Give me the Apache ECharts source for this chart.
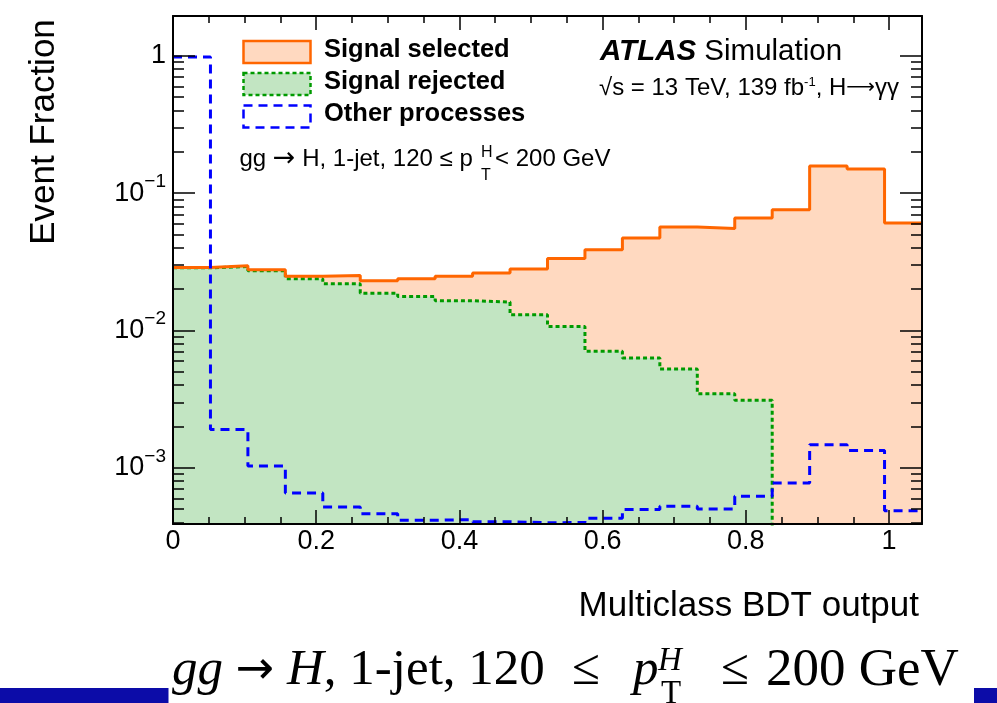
<!DOCTYPE html>
<html><head><meta charset="utf-8">
<script src="https://cdn.jsdelivr.net/npm/echarts@6/dist/echarts.min.js"></script>
<style>html,body{margin:0;padding:0;background:#fff}#c{width:997px;height:703px}</style>
</head><body><div id="c"></div><script>
// ---- data ----
const binEdges = [0,0.0523,0.1046,0.1569,0.2092,0.2615,0.3138,0.3661,0.4184,0.4707,0.523,0.5753,0.6276,0.6799,0.7322,0.7845,0.8368,0.8891,0.9414,0.9937,1.046];
const signalSelected = [0.0288,0.0296,0.0277,0.0248,0.0251,0.0230,0.0238,0.0248,0.0262,0.0280,0.0334,0.0387,0.0471,0.0567,0.0554,0.0659,0.0757,0.158,0.150,0.0606];
const signalRejected = [0.0286,0.0292,0.0272,0.0238,0.0219,0.0187,0.0177,0.0165,0.0161,0.0130,0.0107,0.00705,0.00631,0.00525,0.00347,0.00310,null,null,null,null];
const otherProcesses = [0.98,0.00190,0.00103,0.000656,0.000519,0.000464,0.000415,0.000420,0.000405,0.000398,0.000400,0.000429,0.000497,0.000525,0.000502,0.000621,0.000776,0.00147,0.00134,0.000486];
const xMajorTicks = [0,0.2,0.4,0.6,0.8,1];
const xMinorTicks = [0.05,0.1,0.15,0.25,0.3,0.35,0.45,0.5,0.55,0.65,0.7,0.75,0.85,0.9,0.95];
const yMajorTicks = [0.001,0.01,0.1,1];
const yMinorTicks = [0.0004,0.0005,0.0006,0.0007,0.0008,0.0009,0.002,0.003,0.004,0.005,0.006,0.007,0.008,0.009,0.02,0.03,0.04,0.05,0.06,0.07,0.08,0.09,0.2,0.3,0.4,0.5,0.6,0.7,0.8,0.9];
const legendLabels = ['Signal selected','Signal rejected','Other processes'];

const FONT = '"Liberation Sans", Arial, Helvetica, sans-serif';
const SERIF = '"Liberation Serif", "Times New Roman", serif';
const ARROWF = '"DejaVu Sans", sans-serif';
const X_MIN = 0, X_MAX = 1.046, Y_MIN = 3.9e-4, Y_MAX = 1.95;
const C_OR = '#ff6600', C_ORF = '#ffd9c0', C_GR = '#009a00', C_GRF = '#c2e5c2', C_BL = '#0000ff';

function stepData(vals){
  const d=[]; let last=null;
  for(let i=0;i<vals.length;i++){
    if(vals[i]==null){ if(last!=null){ d.push([binEdges[i],1e-6]); last=null; } continue; }
    d.push([binEdges[i],vals[i]]); last=vals[i];
  }
  if(last!=null) d.push([binEdges[vals.length],last]);
  return d;
}
const tickLine = {color:'#000', width:1.5};
function xAx(pos, ticks, len, labels, line){
  return {type:'value', min:X_MIN, max:X_MAX, position:pos, z:10,
    axisLine:{show:line, onZero:false, lineStyle:{color:'#000', width:2}},
    axisTick:{show:true, inside:true, length:len, customValues:ticks, lineStyle:tickLine},
    axisLabel:{show:labels, customValues:ticks, margin:4, color:'#000', fontSize:27, fontFamily:FONT,
      formatter:function(v){ return (v===0)?'0':(Math.abs(v-1)<1e-9?'1':v.toFixed(1)); }},
    splitLine:{show:false}, minorTick:{show:false}};
}
function yAx(pos, ticks, len, labels, line){
  return {type:'log', logBase:10, min:Y_MIN, max:Y_MAX, position:pos, z:10,
    axisLine:{show:line, onZero:false, lineStyle:{color:'#000', width:2}},
    axisTick:{show:true, inside:true, length:len, customValues:ticks, lineStyle:tickLine},
    axisLabel:{show:labels, customValues:ticks, margin:7, color:'#000', fontSize:27, fontFamily:FONT,
      formatter:function(v){ const e=Math.round(Math.log10(v)); return e===0?'1':'{b|10}{s|\u2212'+(-e)+'}'; },
      rich:{b:{fontSize:27, lineHeight:42, fontFamily:FONT, color:'#000'},
            s:{fontSize:19, lineHeight:19, verticalAlign:'top', fontFamily:FONT, color:'#000'}}},
    splitLine:{show:false}, minorTick:{show:false}};
}
const lineBase = {type:'line', step:'end', symbol:'none', showSymbol:false, animation:false, clip:true, xAxisIndex:0, yAxisIndex:0};

const chart = echarts.init(document.getElementById('c'), null, {renderer:'canvas'});
chart.setOption({
  animation:false,
  backgroundColor:'#fff',
  grid:{left:173, top:16, width:749, height:508, show:false},
  xAxis:[xAx('bottom',xMajorTicks,14,true,true), xAx('bottom',xMinorTicks,7,false,false),
         xAx('top',xMajorTicks,14,false,true), xAx('top',xMinorTicks,7,false,false)],
  yAxis:[yAx('left',yMajorTicks,22,true,true), yAx('left',yMinorTicks,11,false,false),
         yAx('right',yMajorTicks,22,false,true), yAx('right',yMinorTicks,11,false,false)],
  series:[
    Object.assign({}, lineBase, {name:legendLabels[0]+' fill', data:stepData(signalSelected), z:1,
      lineStyle:{width:0, opacity:0}, areaStyle:{color:C_ORF, opacity:1, origin:'start'}}),
    Object.assign({}, lineBase, {name:legendLabels[1]+' fill', data:stepData(signalRejected), z:2,
      lineStyle:{width:0, opacity:0}, areaStyle:{color:C_GRF, opacity:1, origin:'start'}}),
    Object.assign({}, lineBase, {name:legendLabels[1], data:stepData(signalRejected), z:3,
      lineStyle:{color:C_GR, width:3, type:[4,3]}}),
    Object.assign({}, lineBase, {name:legendLabels[0], data:stepData(signalSelected), z:4,
      lineStyle:{color:C_OR, width:3}}),
    Object.assign({}, lineBase, {name:legendLabels[2], data:stepData(otherProcesses), z:5,
      lineStyle:{color:C_BL, width:3, type:[9,6]}})
  ],
  graphic:[
    // legend
    {type:'rect', z:100, shape:{x:243.5,y:41,width:67,height:22}, style:{fill:C_ORF, stroke:C_OR, lineWidth:2.5}},
    {type:'rect', z:100, shape:{x:243.5,y:73,width:67,height:22}, style:{fill:C_GRF, stroke:C_GR, lineWidth:2.5, lineDash:[4,3]}},
    {type:'rect', z:100, shape:{x:243.5,y:105.5,width:67,height:22}, style:{fill:'#fff', stroke:C_BL, lineWidth:2.5, lineDash:[9,6]}},
    {type:'text', z:100, x:324, y:50, style:{text:legendLabels[0], fontSize:25.5, fontWeight:'bold', fontFamily:FONT, fill:'#000', verticalAlign:'middle'}},
    {type:'text', z:100, x:324, y:82, style:{text:legendLabels[1], fontSize:25.5, fontWeight:'bold', fontFamily:FONT, fill:'#000', verticalAlign:'middle'}},
    {type:'text', z:100, x:324, y:114, style:{text:legendLabels[2], fontSize:25.5, fontWeight:'bold', fontFamily:FONT, fill:'#000', verticalAlign:'middle'}},
    // ATLAS label
    {type:'text', z:100, x:600, y:52, style:{text:'{a|ATLAS}{r| Simulation}', verticalAlign:'middle', fill:'#000',
      rich:{a:{fontSize:29.5, fontWeight:'bold', fontStyle:'italic', fontFamily:FONT, fill:'#000'}, r:{fontSize:29.5, fontFamily:FONT, fill:'#000'}}}},
    {type:'text', z:100, x:599, y:88, style:{text:'{n|\u221As = 13 TeV, 139 fb}{s|-1}{n|, H}{a|\u27F6}{n|\u03B3\u03B3}', verticalAlign:'middle', fill:'#000',
      rich:{n:{fontSize:24, lineHeight:25, fontFamily:FONT, fill:'#000'}, a:{fontSize:20, lineHeight:25, fontFamily:ARROWF, fill:'#000'},
            s:{fontSize:13, lineHeight:12, verticalAlign:'top', fontFamily:FONT, fill:'#000'}}}},
    // category annotation
    {type:'text', z:100, x:239.5, y:159, style:{text:'{n|gg }{a|\u2192}{n| H, 1-jet, 120 \u2264 p}', verticalAlign:'middle', fill:'#000',
      rich:{n:{fontSize:24, fontFamily:FONT, fill:'#000'}, a:{fontSize:27, fontFamily:ARROWF, fill:'#000'}}}},
    {type:'text', z:100, x:481, y:152.5, style:{text:'H', fontSize:16, fontFamily:FONT, fill:'#000', verticalAlign:'middle'}},
    {type:'text', z:100, x:481, y:176, style:{text:'T', fontSize:16, fontFamily:FONT, fill:'#000', verticalAlign:'middle'}},
    {type:'text', z:100, x:495, y:159, style:{text:'< 200 GeV', fontSize:24, fontFamily:FONT, fill:'#000', verticalAlign:'middle'}},
    // axis titles
    {type:'text', z:100, x:919, y:606, style:{text:'Multiclass BDT output', fontSize:35, fontFamily:FONT, fill:'#000', align:'right', verticalAlign:'middle'}},
    {type:'text', z:100, x:44, y:132, rotation:Math.PI/2, style:{text:'Event Fraction', fontSize:35, fontFamily:FONT, fill:'#000', align:'center', verticalAlign:'middle'}},
    // slide footer
    {type:'rect', z:90, shape:{x:0,y:688,width:168.5,height:15}, style:{fill:'#0c0ca8'}},
    {type:'rect', z:90, shape:{x:974,y:688,width:23,height:15}, style:{fill:'#0c0ca8'}},
    {type:'text', z:100, x:172, y:671, style:{text:'{i|gg} {a|\u2192} {i|H}{n|, 1-jet, 120}', verticalAlign:'middle', fill:'#000',
      rich:{i:{fontSize:51, fontStyle:'italic', fontFamily:SERIF, fill:'#000'}, n:{fontSize:51, fontFamily:SERIF, fill:'#000'},
            a:{fontSize:46, fontFamily:ARROWF, fill:'#000'}}, fontSize:51, fontFamily:SERIF}},
    {type:'text', z:100, x:572, y:671, style:{text:'\u2264', fontSize:51, fontFamily:SERIF, fill:'#000', verticalAlign:'middle'}},
    {type:'text', z:100, x:633, y:671, style:{text:'p', fontSize:51, fontStyle:'italic', fontFamily:SERIF, fill:'#000', verticalAlign:'middle'}},
    {type:'text', z:100, x:658, y:661, style:{text:'H', fontSize:33, fontStyle:'italic', fontFamily:SERIF, fill:'#000', verticalAlign:'middle'}},
    {type:'text', z:100, x:661, y:694, style:{text:'T', fontSize:33, fontFamily:SERIF, fill:'#000', verticalAlign:'middle'}},
    {type:'text', z:100, x:721, y:671, style:{text:'\u2264', fontSize:51, fontFamily:SERIF, fill:'#000', verticalAlign:'middle'}},
    {type:'text', z:100, x:766, y:671, style:{text:'200 GeV', fontSize:53, fontFamily:SERIF, fill:'#000', verticalAlign:'middle'}}
  ]
});
</script></body></html>
